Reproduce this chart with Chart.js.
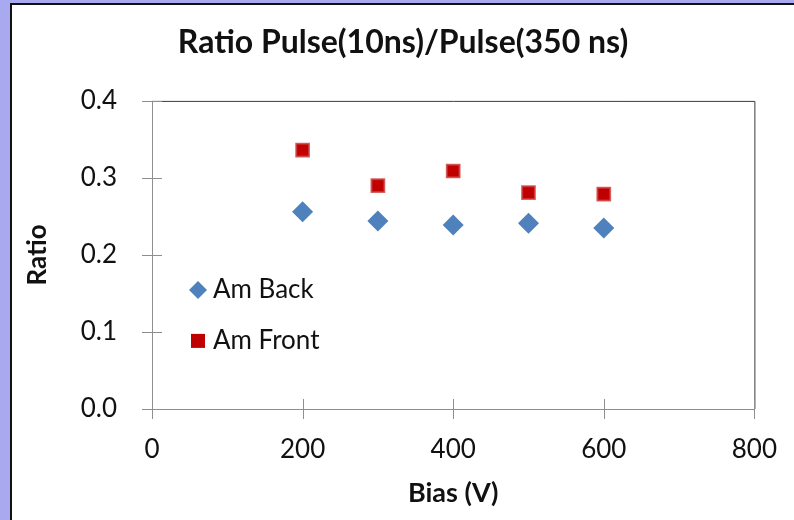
<!DOCTYPE html>
<html>
<head>
<meta charset="utf-8">
<script src="https://cdn.jsdelivr.net/npm/chart.js@4.4.0/dist/chart.umd.min.js"></script>
<style>
  body { margin: 0; background: #a9a9ef; width: 794px; height: 520px; overflow: hidden; }
  #wrap { position: absolute; left: 10px; top: 3px; width: 784px; height: 517px;
          border-left: 2px solid #111; border-top: 2px solid #111; background: #fff; }
  canvas { display: block; }
</style>
</head>
<body>
<div id="wrap"><canvas id="ratioChart" width="782" height="515"></canvas></div>
<script>
// data
const biasVolts = [200, 300, 400, 500, 600];
const amBackRatio = [0.256, 0.244, 0.239, 0.241, 0.235];
const amFrontRatio = [0.336, 0.290, 0.309, 0.281, 0.279];
const seriesNames = ['Am Back', 'Am Front'];
const xTickValues = [0, 200, 400, 600, 800];
const yTickValues = [0.0, 0.1, 0.2, 0.3, 0.4];

const backColor = '#4f81bd';
const frontColor = '#c00000';
const axisGray = '#8e8e8e';

function toPoints(xs, ys) {
    return xs.map((x, i) => ({ x: x, y: ys[i] }));
}

// frame: dark top/right border, gray axes with ticks crossing them
const framePlugin = {
    id: 'frame',
    beforeDatasetsDraw(chart) {
        const { ctx, chartArea: a, scales } = chart;
        ctx.save();
        ctx.lineWidth = 1;
        ctx.strokeStyle = '#3a3a3a';
        ctx.beginPath();
        ctx.moveTo(a.left, a.top + 0.5);
        ctx.lineTo(a.right + 0.5, a.top + 0.5);
        ctx.lineTo(a.right + 0.5, a.bottom);
        ctx.stroke();

        ctx.strokeStyle = axisGray;
        ctx.beginPath();
        ctx.moveTo(a.left + 0.5, a.top);
        ctx.lineTo(a.left + 0.5, a.bottom + 0.5);
        ctx.lineTo(a.right, a.bottom + 0.5);
        scales.y.ticks.forEach(t => {
            const py = Math.round(scales.y.getPixelForValue(t.value)) + 0.5;
            ctx.moveTo(a.left - 10, py);
            ctx.lineTo(a.left + 10, py);
        });
        scales.x.ticks.forEach(t => {
            const px = Math.round(scales.x.getPixelForValue(t.value)) + 0.5;
            ctx.moveTo(px, a.bottom - 10);
            ctx.lineTo(px, a.bottom + 10);
        });
        ctx.stroke();
        ctx.restore();
    }
};

// legend sits inside the plot area, lower left
const insideLegend = {
    id: 'insideLegend',
    afterDraw(chart) {
        const { ctx, chartArea: a } = chart;
        const mx = a.left + 46;
        const tx = a.left + 61;
        const rows = [a.top + 189, a.top + 240];
        ctx.save();
        // diamond
        ctx.fillStyle = backColor;
        ctx.beginPath();
        ctx.moveTo(mx, rows[0] - 9);
        ctx.lineTo(mx + 9, rows[0]);
        ctx.lineTo(mx, rows[0] + 9);
        ctx.lineTo(mx - 9, rows[0]);
        ctx.closePath();
        ctx.fill();
        // square
        ctx.fillStyle = frontColor;
        ctx.fillRect(mx - 7, rows[1] - 7, 14, 14);

        ctx.fillStyle = '#111';
        ctx.font = '26px Lato';
        ctx.textBaseline = 'middle';
        ctx.textAlign = 'left';
        ctx.fillText(seriesNames[0], tx, rows[0]);
        ctx.fillText(seriesNames[1], tx, rows[1]);
        ctx.restore();
    }
};

new Chart(document.getElementById('ratioChart'), {
    type: 'scatter',
    data: {
        datasets: [{
            label: seriesNames[0],
            data: toPoints(biasVolts, amBackRatio),
            pointStyle: 'rectRot',
            pointRadius: 10.5,
            pointHoverRadius: 10.5,
            backgroundColor: backColor,
            borderColor: backColor,
            borderWidth: 0
        }, {
            label: seriesNames[1],
            data: toPoints(biasVolts, amFrontRatio),
            pointStyle: 'rect',
            pointRadius: 9,
            pointHoverRadius: 9,
            backgroundColor: frontColor,
            borderColor: 'rgba(205, 60, 60, 0.8)',
            borderWidth: 2
        }]
    },
    options: {
        responsive: false,
        animation: false,
        layout: { padding: 0 },
        plugins: {
            legend: { display: false },
            tooltip: { enabled: false },
            title: {
                display: true,
                text: 'Ratio Pulse(10ns)/Pulse(350 ns)',
                color: '#111',
                font: { family: 'Lato', size: 32, weight: 'bold' },
                padding: { top: 18.5, bottom: 39 }
            }
        },
        scales: {
            x: {
                type: 'linear',
                min: 0,
                max: 800,
                afterFit(scale) { scale.height = 111; },
                afterBuildTicks(scale) { scale.ticks = xTickValues.map(v => ({ value: v })); },
                grid: { display: false },
                border: { display: false },
                ticks: {
                    color: '#111',
                    padding: 17,
                    font: { family: 'Lato', size: 26 }
                },
                title: {
                    display: true,
                    text: 'Bias (V)',
                    color: '#111',
                    font: { family: 'Lato', size: 27, weight: 'bold' },
                    padding: { top: 0, bottom: 11 }
                }
            },
            y: {
                type: 'linear',
                min: 0,
                max: 0.4,
                afterFit(scale) { scale.width = 140; },
                afterBuildTicks(scale) { scale.ticks = yTickValues.map(v => ({ value: v })); },
                grid: { display: false },
                border: { display: false },
                ticks: {
                    color: '#111',
                    padding: 27,
                    font: { family: 'Lato', size: 26 },
                    callback: v => v.toFixed(1)
                },
                title: {
                    display: true,
                    text: 'Ratio',
                    color: '#111',
                    font: { family: 'Lato', size: 26, weight: 'bold' },
                    padding: { top: 10, bottom: 0 }
                }
            },
            // empty right-hand strip, keeps the title centred on the full width
            yRight: {
                type: 'linear',
                position: 'right',
                min: 0,
                max: 0.4,
                afterFit(scale) { scale.width = 39; },
                grid: { display: false },
                border: { display: false },
                ticks: { display: false }
            }
        }
    },
    plugins: [framePlugin, insideLegend]
});
</script>
</body>
</html>
